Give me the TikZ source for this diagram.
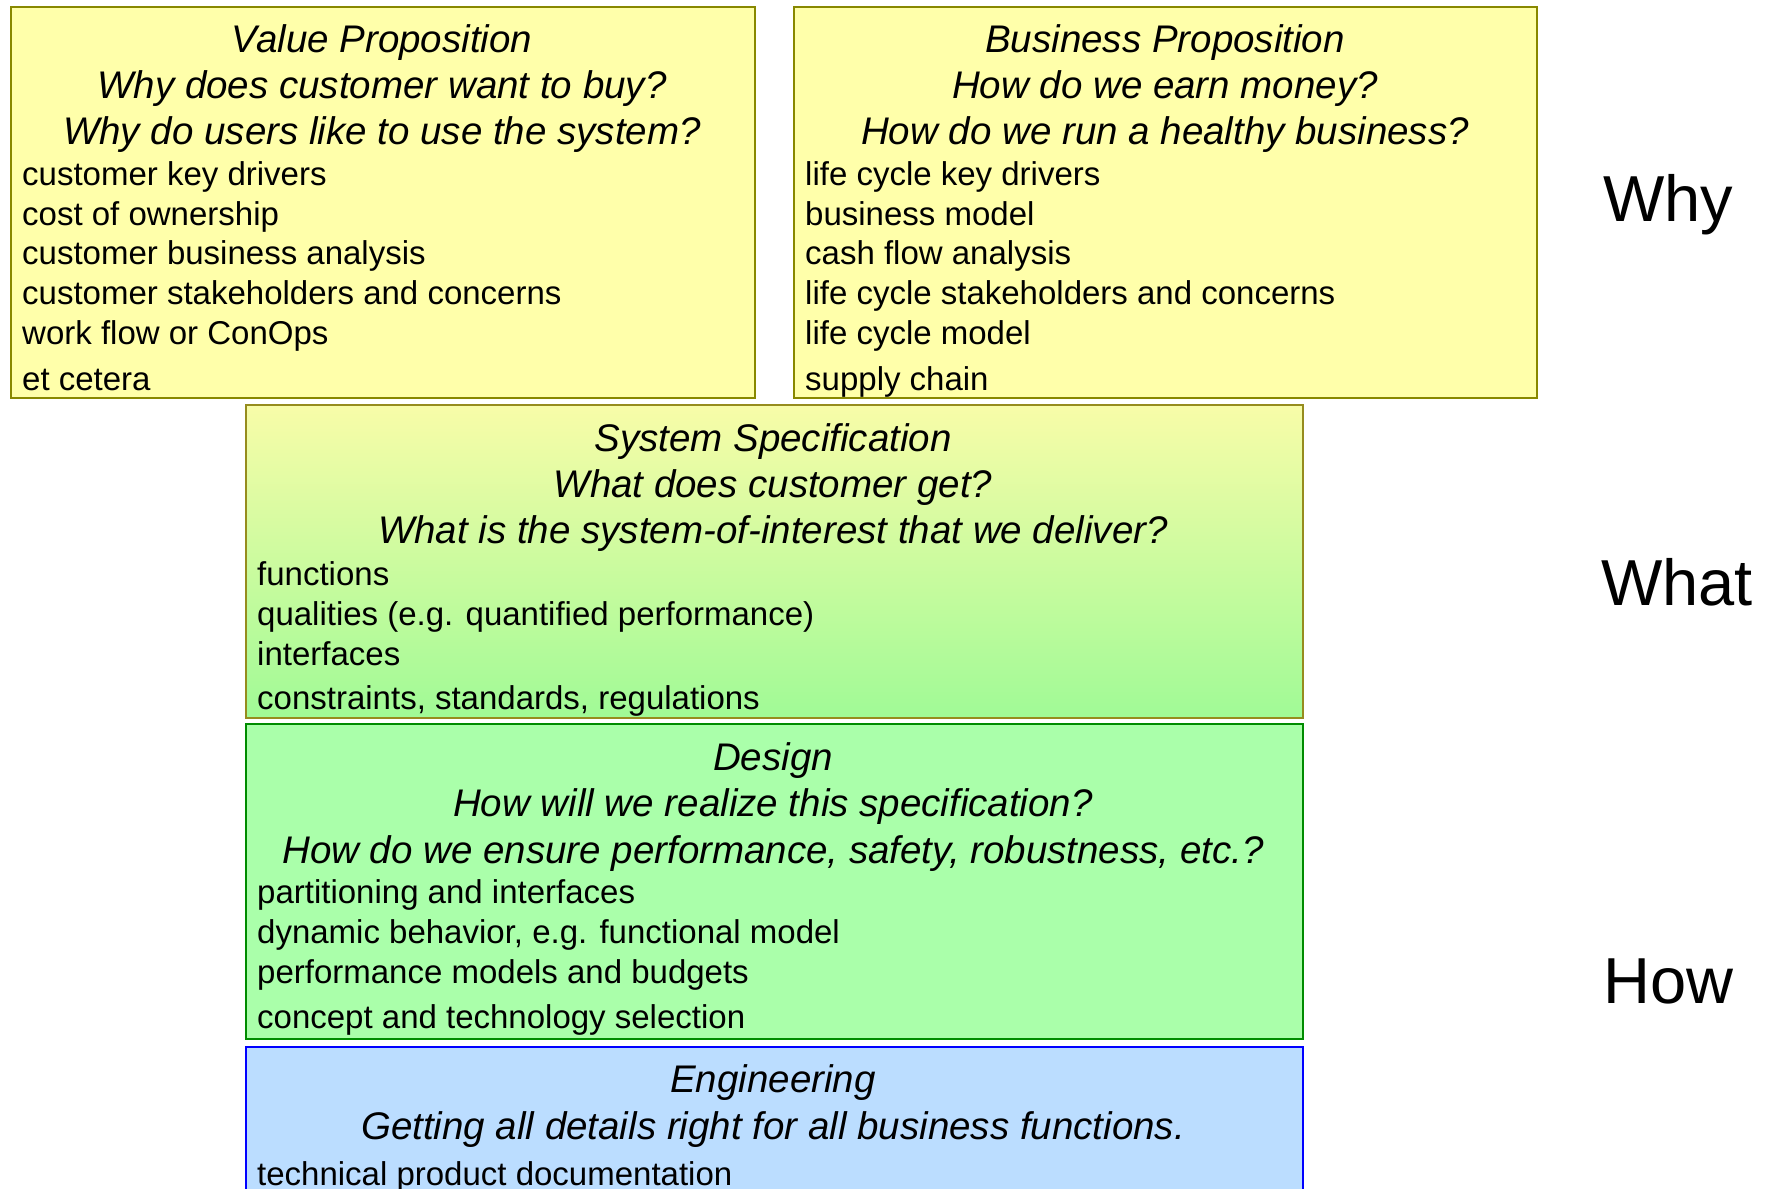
\documentclass[tikz,border=0pt]{standalone}
\usepackage{fontspec}
\setmainfont{Liberation Sans}
\definecolor{ylfill}{RGB}{255,255,170}
\definecolor{ylline}{RGB}{136,136,0}
\definecolor{spline}{RGB}{150,140,30}
\definecolor{sptop}{RGB}{248,252,168}
\definecolor{spbot}{RGB}{160,250,150}
\definecolor{dsfill}{RGB}{170,255,170}
\definecolor{dsline}{RGB}{0,140,0}
\definecolor{enfill}{RGB}{187,221,255}
\definecolor{enline}{RGB}{0,0,255}
\tikzset{
  box/.style={draw, line width=2pt, inner sep=0pt, anchor=north west},
  head/.style={inner sep=0pt, anchor=base, font=\fontsize{38.5}{46}\selectfont\itshape},
  item/.style={inner sep=0pt, anchor=base west, font=\fontsize{33}{40}\selectfont},
  side/.style={inner sep=0pt, anchor=base west, font=\fontsize{65}{78}\selectfont},
}
\begin{document}
\begin{tikzpicture}[x=1pt,y=-1pt]
\useasboundingbox (0,0) rectangle (1765,1189);
\clip (0,0) rectangle (1765,1189);
\fill[white] (0,0) rectangle (1765,1189);
% Value proposition
\node[box, draw=ylline, fill=ylfill, minimum width=744pt, minimum height=391pt] (vp) at (10,6) {};
\node[head] (vph1) at (382,52) {Value Proposition};
\node[head] (vph2) at (382,98) {Why does customer want to buy?};
\node[head] (vph3) at (382,144) {Why do users like to use the system?};
\node[item] (vpi1) at (22,185) {customer key drivers};
\node[item] (vpi2) at (22,225) {cost of ownership};
\node[item] (vpi3) at (22,264.5) {customer business analysis};
\node[item] (vpi4) at (22,304.5) {customer stakeholders and concerns};
\node[item] (vpi5) at (22,344.5) {work flow or ConOps};
\node[item] (vpi6) at (22,390) {et cetera};
% Business proposition
\node[box, draw=ylline, fill=ylfill, minimum width=743pt, minimum height=391pt] (bp) at (793,6) {};
\node[head] (bph1) at (1165,52) {Business Proposition};
\node[head] (bph2) at (1165,98) {How do we earn money?};
\node[head] (bph3) at (1165,144) {How do we run a healthy business?};
\node[item] (bpi1) at (805,185) {life cycle key drivers};
\node[item] (bpi2) at (805,225) {business model};
\node[item] (bpi3) at (805,264.5) {cash flow analysis};
\node[item] (bpi4) at (805,304.5) {life cycle stakeholders and concerns};
\node[item] (bpi5) at (805,344.5) {life cycle model};
\node[item] (bpi6) at (805,390) {supply chain};
% System specification
\node[box, draw=spline, top color=sptop, bottom color=spbot, minimum width=1057pt, minimum height=313pt] (ss) at (245,404) {};
\node[head] (ssh1) at (773,451) {System Specification};
\node[head] (ssh2) at (773,497) {What does customer get?};
\node[head] (ssh3) at (773,543) {What is the system-of-interest that we deliver?};
\node[item] (ssi1) at (257,585) {functions};
\node[item] (ssi2) at (257,625) {qualities (e.g. quantified performance)};
\node[item] (ssi3) at (257,665) {interfaces};
\node[item] (ssi4) at (257,709) {constraints, standards, regulations};
% Design
\node[box, draw=dsline, fill=dsfill, minimum width=1057pt, minimum height=315pt] (ds) at (245,723) {};
\node[head] (dsh1) at (773,770) {Design};
\node[head] (dsh2) at (773,816) {How will we realize this specification?};
\node[head] (dsh3) at (773,863) {How do we ensure performance, safety, robustness, etc.?};
\node[item] (dsi1) at (257,903) {partitioning and interfaces};
\node[item] (dsi2) at (257,943) {dynamic behavior, e.g. functional model};
\node[item] (dsi3) at (257,983) {performance models and budgets};
\node[item] (dsi4) at (257,1028) {concept and technology selection};
% Engineering
\node[box, draw=enline, fill=enfill, minimum width=1057pt, minimum height=170pt] (en) at (245,1046) {};
\node[head] (enh1) at (773,1092) {Engineering};
\node[head] (enh2) at (773,1139) {Getting all details right for all business functions.};
\node[item] (eni1) at (257,1185) {technical product documentation};
% side labels
\node[side] (why) at (1603,221) {Why};
\node[side] (what) at (1601,605) {What};
\node[side] (how) at (1603,1003) {How};
\end{tikzpicture}
\end{document}
